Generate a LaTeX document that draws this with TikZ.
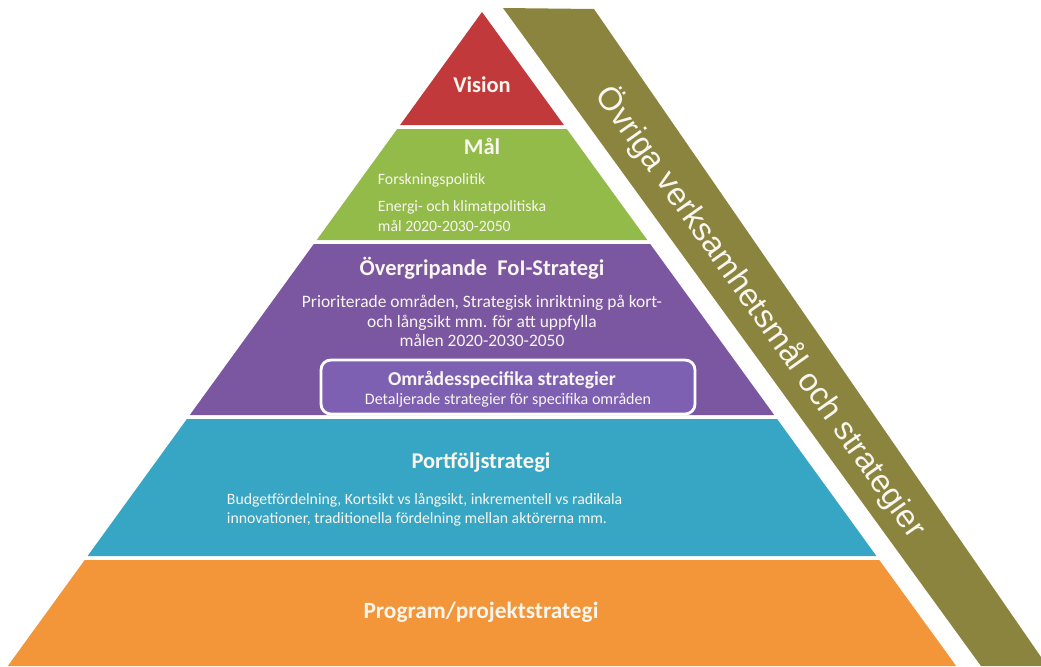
\documentclass[tikz,border=0pt]{standalone}
\usepackage{fontspec}
\setmainfont{Carlito}
\newfontfamily\sidefont{Liberation Sans}
\definecolor{visred}{HTML}{C2393C}
\definecolor{malgreen}{HTML}{92BB4A}
\definecolor{foipurple}{HTML}{7B56A1}
\definecolor{boxpurple}{HTML}{7E60B2}
\definecolor{portcyan}{HTML}{36A6C4}
\definecolor{progorange}{HTML}{F39539}
\definecolor{olive}{HTML}{8A843F}
\definecolor{txt}{HTML}{F8F6EE}
\tikzset{
  head/.style={text=txt, font=\bfseries\fontsize{16}{19}\selectfont},
  body/.style={text=txt, font=\fontsize{11.2}{13.6}\selectfont},
}
\begin{document}
\begin{tikzpicture}[x=0.025cm, y=-0.025cm]
        \useasboundingbox (0,0) rectangle (1041,666);
        % pyramid bands
        \fill [visred] (482,12) -- (563.9,125) -- (400.1,125) -- cycle;
        \fill [malgreen] (397.2,129) -- (566.8,129) -- (647.3,240) -- (316.7,240) -- cycle;
        \fill [foipurple] (313.8,244) -- (650.2,244) -- (774.2,415) -- (189.8,415) -- cycle;
        \fill [portcyan] (186.9,419) -- (777.1,419) -- (876.4,556) -- (87.6,556) -- cycle;
        \fill [progorange] (84.7,560) -- (879.3,560) -- (956.2,666) -- (7.8,666) -- cycle;
        % side band
        \fill [olive] (503,8) -- (594,9) -- (1041,657) -- (1041,666) -- (981,666) -- cycle;
        \node [rotate=-54.6, text=txt, font=\sidefont\fontsize{23}{27}\selectfont] (other) at (761,312) {Övriga verksamhetsmål och strategier};
        % texts
        \node [head] (vision) at (482,85) {Vision};
        \node [head] (goal) at (482,146) {Mål};
        \node [body, anchor=west] (goalpol) at (373,180) {Forskningspolitik};
        \node [body, anchor=north west, align=left] (goaltxt) at (373,196) {Energi- och klimatpolitiska\\mål 2020-2030-2050};
        \node [head] (fois) at (482,268) {Övergripande\ \ FoI-Strategi};
        \node [body, align=center, font=\fontsize{12.4}{13.8}\selectfont] (foistxt) at (482,321) {Prioriterade områden, Strategisk inriktning på kort-\\och långsikt mm. för att uppfylla\\målen 2020-2030-2050};
        \node [draw=white, line width=2pt, fill=boxpurple, rounded corners=7pt,
               minimum width=374*0.025cm, minimum height=54*0.025cm] (areas) at (508,387) {};
        \node [text=txt, font=\bfseries\fontsize{14}{16}\selectfont] (areastitle) at (502,380) {Områdesspecifika strategier};
        \node [body, font=\fontsize{11.4}{12}\selectfont] (areastxt) at (508,400) {Detaljerade strategier för specifika områden};
        \node [head] (portf) at (481,463) {Portföljstrategi};
        \node [body, anchor=north west, align=left] (portftxt) at (222,488) {Budgetfördelning, Kortsikt vs långsikt, inkrementell vs radikala\\innovationer, traditionella fördelning mellan aktörerna mm.};
        \node [head, font=\bfseries\fontsize{16.6}{19}\selectfont] (prog) at (481,612) {Program/projektstrategi};
\end{tikzpicture}
\end{document}
